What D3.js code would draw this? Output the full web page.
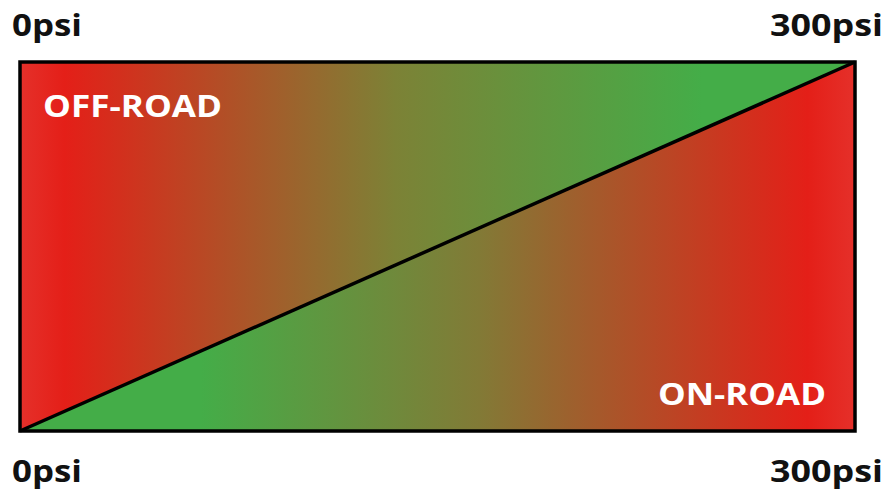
<!DOCTYPE html>
<meta charset="utf-8">
<script src="https://cdn.jsdelivr.net/npm/d3@7"></script>
<style>
body { margin: 0; background: #fff; }
text { font-family: "Open Sans", "DejaVu Sans", sans-serif; font-weight: 700; }
</style>
<body>
<script>

// pressure scale and its end labels
var psiDomain = [0, 300]
var psiLabels = ["0psi", "300psi"]

// the two zones, upper triangle and lower triangle
var zones = ["OFF-ROAD", "ON-ROAD"]

// colour stops along the pressure axis, per zone
var offRoadStops = [
  {psi: 0, color: "#e5302a"},
  {psi: 16, color: "#e41f18"},
  {psi: 135, color: "#7c8236"},
  {psi: 245, color: "#44ad48"},
  {psi: 300, color: "#44ad48"}
]
var onRoadStops = [
  {psi: 0, color: "#44ad48"},
  {psi: 65, color: "#44ad48"},
  {psi: 165, color: "#827a36"},
  {psi: 283, color: "#e41f18"},
  {psi: 300, color: "#e5302a"}
]

var width = 891
var height = 494
var boxLeft = 20, boxRight = 855, boxTop = 62, boxBottom = 431

var svg = d3.select("body").append("svg")
            .attr("width", width)
            .attr("height", height)

var x = d3.scaleLinear().domain(psiDomain).range([boxLeft, boxRight])
var y = d3.scaleLinear().domain([0, 1]).range([boxBottom, boxTop])

var defs = svg.append("defs")
function gradient(id, stops) {
  var g = defs.append("linearGradient").attr("id", id)
      .attr("gradientUnits", "userSpaceOnUse")
      .attr("x1", x(psiDomain[0])).attr("x2", x(psiDomain[1]))
      .attr("y1", 0).attr("y2", 0)
  g.selectAll("stop").data(stops).enter().append("stop")
      .attr("offset", function(d) { return (d.psi - psiDomain[0]) / (psiDomain[1] - psiDomain[0]) })
      .attr("stop-color", function(d) { return d.color })
}
gradient("gOff", offRoadStops)
gradient("gOn", onRoadStops)

var line = d3.line().x(function(d) { return x(d[0]) }).y(function(d) { return y(d[1]) })

// upper triangle: off-road
svg.append("path")
    .attr("d", line([[psiDomain[0], 0], [psiDomain[0], 1], [psiDomain[1], 1]]) + "Z")
    .attr("fill", "url(#gOff)")
// lower triangle: on-road
svg.append("path")
    .attr("d", line([[psiDomain[0], 0], [psiDomain[1], 1], [psiDomain[1], 0]]) + "Z")
    .attr("fill", "url(#gOn)")

// diagonal
svg.append("path")
    .attr("d", line([[psiDomain[0], 0], [psiDomain[1], 1]]))
    .attr("stroke", "#000").attr("stroke-width", 3.5).attr("fill", "none")

// frame
svg.append("rect")
    .attr("x", x(psiDomain[0])).attr("y", y(1))
    .attr("width", x(psiDomain[1]) - x(psiDomain[0]))
    .attr("height", y(0) - y(1))
    .attr("fill", "none").attr("stroke", "#000").attr("stroke-width", 3.5)

// psi labels, top and bottom
var labelW = [70, 113]
;[36, 482].forEach(function(base) {
  svg.selectAll(null).data(psiLabels).enter().append("text")
      .attr("x", function(d, i) { return i == 0 ? x(psiDomain[0]) - 8 : x(psiDomain[1]) + 28 })
      .attr("y", base)
      .attr("text-anchor", function(d, i) { return i == 0 ? "start" : "end" })
      .attr("font-size", 31)
      .attr("textLength", function(d, i) { return labelW[i] })
      .attr("lengthAdjust", "spacingAndGlyphs")
      .attr("fill", "#111")
      .text(function(d) { return d })
})

// zone labels
var zoneW = [179, 168]
svg.selectAll(".zone").data(zones).enter().append("text")
    .attr("class", "zone")
    .attr("x", function(d, i) { return i == 0 ? x(psiDomain[0]) + 23 : x(psiDomain[1]) - 29 })
    .attr("y", function(d, i) { return i == 0 ? 117 : 405 })
    .attr("text-anchor", function(d, i) { return i == 0 ? "start" : "end" })
    .attr("font-size", 30)
    .attr("textLength", function(d, i) { return zoneW[i] })
    .attr("lengthAdjust", "spacingAndGlyphs")
    .attr("fill", "#fff")
    .text(function(d) { return d })

</script>
</body>
